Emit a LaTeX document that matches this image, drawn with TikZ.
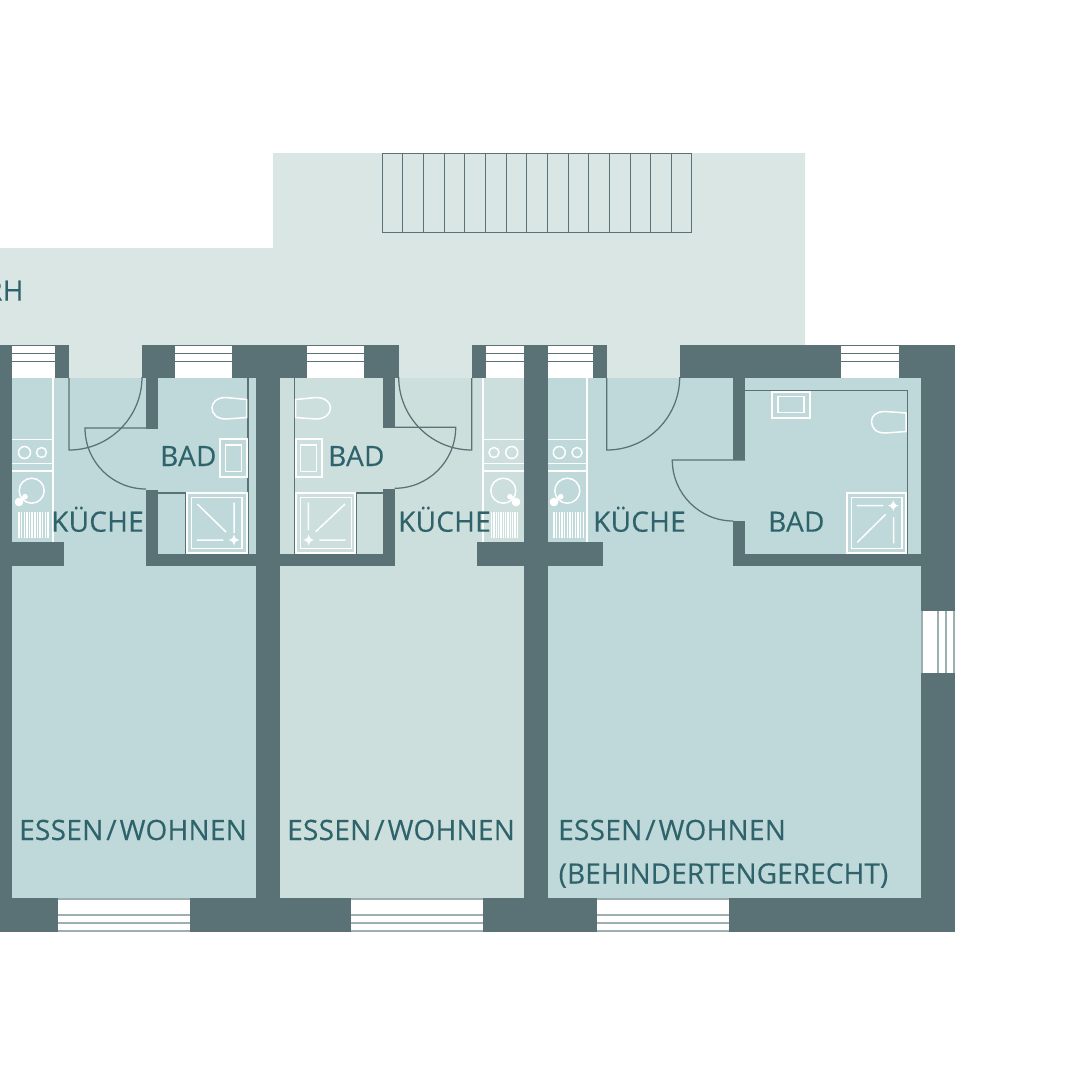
\documentclass[tikz,border=0pt]{standalone}
\usepackage{fontspec}
\setmainfont{Open Sans}
\newfontfamily\labelfont[LetterSpace=1,FakeBold=0.25]{Open Sans}
\newfontfamily\longfont[LetterSpace=0.3,FakeBold=0.25]{Open Sans}
\definecolor{wallc}{HTML}{5A7176}
\definecolor{roomc}{HTML}{BFD8D9}
\definecolor{roomb}{HTML}{CDDFDD}
\definecolor{terrc}{HTML}{DAE6E3}
\definecolor{textc}{HTML}{2F636B}
\definecolor{framec}{HTML}{9DB0B1}
\tikzset{
  wall/.style={fill=wallc,draw=none},
  win/.style={fill=white,draw=none},
  winline/.style={draw=wallc,line width=1pt},
  winlineg/.style={draw=framec,line width=1.1pt},
  thin/.style={draw=wallc,line width=1.25pt},
  fix/.style={draw=white,line width=1.5pt},
  fixb/.style={draw=white,line width=2pt},
  lbl/.style={anchor=base west,inner sep=0pt,text=textc,font=\labelfont\fontsize{28}{30}\selectfont},
  lbllong/.style={lbl,font=\longfont\fontsize{28}{30}\selectfont},
}
\newcommand{\topwin}[2]{%
  \fill[win] (#1,346) rectangle (#2,378);
  \draw[winline] (#1,345.6) -- (#2,345.6) (#1,353.3) -- (#2,353.3) (#1,361.3) -- (#2,361.3);}
\newcommand{\botwin}[2]{%
  \fill[win] (#1,899) rectangle (#2,932);
  \draw[winlineg] (#1,899) -- (#2,899) (#1,915) -- (#2,915) (#1,923) -- (#2,923) (#1,931) -- (#2,931);}
\newcommand{\showerbox}[4]{%
  \draw[fixb] (#1,492.7) rectangle (#2,553);
  \draw[fix] (#3,497.7) rectangle (#4,548.7);}
\newcommand{\starmark}[2]{%
  \fill[white] (#1-5.5,#2) -- (#1-1.4,#2-1.4) -- (#1,#2-5.5) -- (#1+1.4,#2-1.4) -- (#1+5.5,#2) -- (#1+1.4,#2+1.4) -- (#1,#2+5.5) -- (#1-1.4,#2+1.4) -- cycle;
  \fill[white] (#1,#2) circle (2.8);}
\newcommand{\grid}[2]{%
  \foreach \k in {0,...,11} {\draw[white,line width=1.4pt] ({#1+(#2-#1)*\k/11},512) -- ({#1+(#2-#1)*\k/11},538);}}
\newcommand{\essen}{ESSEN\kern3pt/\kern3pt WOHNEN}
\begin{document}
\begin{tikzpicture}[x=1pt,y=-1pt]
\useasboundingbox (0,0) rectangle (1080,1080);
% terrace
\fill[terrc] (0,248) -- (273,248) -- (273,153) -- (805,153) -- (805,378) -- (0,378) -- cycle;
% stairs
\draw[thin] (382.5,153.5) rectangle (691.5,232.5);
\foreach \i in {1,...,14} {\draw[thin] ({floor(382+\i*310/15)+0.5},153.5) -- ({floor(382+\i*310/15)+0.5},232.5);}
% rooms
\fill[roomc] (0,378) rectangle (256,900);
\fill[roomb] (280,378) rectangle (524,900);
\fill[roomc] (548,378) rectangle (921,900);
% outer and party walls
\fill[wall] (0,345) rectangle (12,932);
\fill[wall] (256,345) rectangle (280,932);
\fill[wall] (524,345) rectangle (548,932);
\fill[wall] (921,345) rectangle (955,932);
\fill[wall] (0,898) rectangle (955,932);
% top walls
\fill[wall] (12,345) rectangle (69,378);
\fill[wall] (142,345) rectangle (399,378);
\fill[wall] (472,345) rectangle (524,378);
\fill[wall] (548,345) rectangle (607,378);
\fill[wall] (680,345) rectangle (955,378);
% unit 1 inner walls
\fill[wall] (146,378) rectangle (158,429);
\fill[wall] (146,490) rectangle (158,566);
\fill[wall] (146,554) rectangle (256,566);
\fill[wall] (12,542) rectangle (64,566);
% unit 2 inner walls
\fill[wall] (383,378) rectangle (395,428);
\fill[wall] (383,489) rectangle (395,566);
\fill[wall] (280,554) rectangle (395,566);
\fill[wall] (477,542) rectangle (524,566);
% unit 3 inner walls
\fill[wall] (733,378) rectangle (745,460);
\fill[wall] (733,521) rectangle (745,566);
\fill[wall] (733,554) rectangle (921,566);
\fill[wall] (548,542) rectangle (603,566);
% windows
\topwin{12}{55}\topwin{175}{232}\topwin{307}{364}\topwin{486}{524}\topwin{548}{593}\topwin{841}{899}
\botwin{58}{190}\botwin{351}{483}\botwin{597}{729}
\fill[win] (922,611) rectangle (954,673);
\draw[winlineg] (922,611) -- (922,673) (938,611) -- (938,673) (946,611) -- (946,673) (954,611) -- (954,673);
% doors and thin walls, unit 1
\draw[thin] (69,378) -- (69,450) arc[start angle=90,end angle=0,radius=73];
\draw[thin] (146,428) -- (85,428) arc[start angle=180,end angle=90,radius=61];
\draw[thin] (248,378) -- (248,554);
\draw[thin] (158,493) -- (186,493) -- (186,554);
% unit 2
\draw[thin] (471.7,378) -- (471.7,450) arc[start angle=90,end angle=180,radius=73];
\draw[thin] (395,427.3) -- (455.7,427.3) arc[start angle=0,end angle=90,radius=61];
\draw[thin] (294.5,378) -- (294.5,554);
\draw[thin] (383,493) -- (356,493) -- (356,554);
% unit 3
\draw[thin] (606.7,378) -- (606.7,450) arc[start angle=90,end angle=0,radius=73];
\draw[thin] (745,460) -- (672.3,460) arc[start angle=180,end angle=90,radius=61];
\draw[thin] (745,390.5) -- (907.7,390.5) -- (907.7,554);
% kitchens
\draw[fixb] (52.5,378) -- (52.5,542);
\draw[fix] (12,439.3) -- (52.5,439.3) (12,463.5) -- (52.5,463.5) (12,471) -- (52.5,471);
\draw[fix] (24.5,452.5) circle (6) (41.5,452.5) circle (5) (31.7,490.7) circle (12.5) (25,496.7) -- (19,502);
\fill[white] (25,496.7) circle (2.8) (19,502) circle (4.3);
\grid{19}{48}
\draw[fixb] (482.7,378) -- (482.7,542);
\draw[fix] (483,439.3) -- (524,439.3) (483,463.5) -- (524,463.5) (483,471) -- (524,471);
\draw[fix] (494,452.5) circle (5) (511.7,452.5) circle (6) (503.3,490.7) circle (12.5) (510,496.7) -- (516,502);
\fill[white] (510,496.7) circle (2.8) (516,502) circle (4.3);
\grid{491.7}{517.3}
\draw[fixb] (587.3,378) -- (587.3,542);
\draw[fix] (548,439.3) -- (587.3,439.3) (548,463.5) -- (587.3,463.5) (548,471) -- (587.3,471);
\draw[fix] (559.3,452.5) circle (6) (577,452.5) circle (5) (567.3,490.7) circle (12.5) (560.7,496.7) -- (554,502);
\fill[white] (560.7,496.7) circle (2.8) (554,502) circle (4.3);
\grid{554}{583.3}
% bath fixtures unit 1
\draw[fix] (246.7,399.5) -- (226,397.5) .. controls (216,397.5) and (212,403) .. (212,408) .. controls (212,414) and (217,419) .. (226,419) -- (246.7,417.5) -- cycle;
\draw[fixb] (220,439) rectangle (246.7,477.3);
\draw[fix] (225.7,445) rectangle (241.7,471.7);
\showerbox{187}{246.7}{191.3}{242}
\draw[fix] (197.3,504) -- (226,532) (234,502.7) -- (234,533) (196.7,540) -- (223.3,540);
\starmark{234}{540}
% bath fixtures unit 2
\draw[fix] (295.5,399.5) -- (316,397.5) .. controls (326,397.5) and (330.5,403) .. (330.5,408) .. controls (330.5,414) and (325,419) .. (316,419) -- (295.5,417.5) -- cycle;
\draw[fixb] (295.7,439) rectangle (322.3,477.3);
\draw[fix] (300.7,445) rectangle (316.7,471.7);
\showerbox{295.7}{355.3}{300.7}{351.3}
\draw[fix] (315.7,531.7) -- (345,504) (308.3,502.7) -- (308.3,530) (319.3,540) -- (345.3,540);
\starmark{308.7}{540}
% bath fixtures unit 3
\draw[fix] (906,413) -- (885,411.5) .. controls (876,411.5) and (871.5,416) .. (871.5,421.5) .. controls (871.5,428) and (876,433) .. (885,433) -- (906,431.5) -- cycle;
\draw[fixb] (771.7,391.7) rectangle (810.3,417.7);
\draw[fix] (778,396.3) rectangle (804,412.3);
\showerbox{847}{906.3}{851.7}{902}
\draw[fix] (856.7,505.7) -- (883.3,505.7) (857.3,542.3) -- (885.7,514.3) (893.7,517.3) -- (893.7,543.3);
\starmark{893.3}{505.7}
% labels
\node[lbl] (rh) at (-15,300.7) {RH};
\node[lbl] (k1) at (51,531.7) {KÜCHE};
\node[lbl] (b1) at (160,466) {BAD};
\node[lbl] (b2) at (328,466) {BAD};
\node[lbl] (k2) at (398,531.7) {KÜCHE};
\node[lbl] (k3) at (593,531.7) {KÜCHE};
\node[lbl] (b3) at (768,531.7) {BAD};
\node[lbl] (e1) at (19,840) {\essen};
\node[lbl] (e2) at (287,840) {\essen};
\node[lbl] (e3) at (558,840) {\essen};
\node[lbllong] (e4) at (558.5,883.5) {(BEHINDERTENGERECHT)};
\end{tikzpicture}
\end{document}
